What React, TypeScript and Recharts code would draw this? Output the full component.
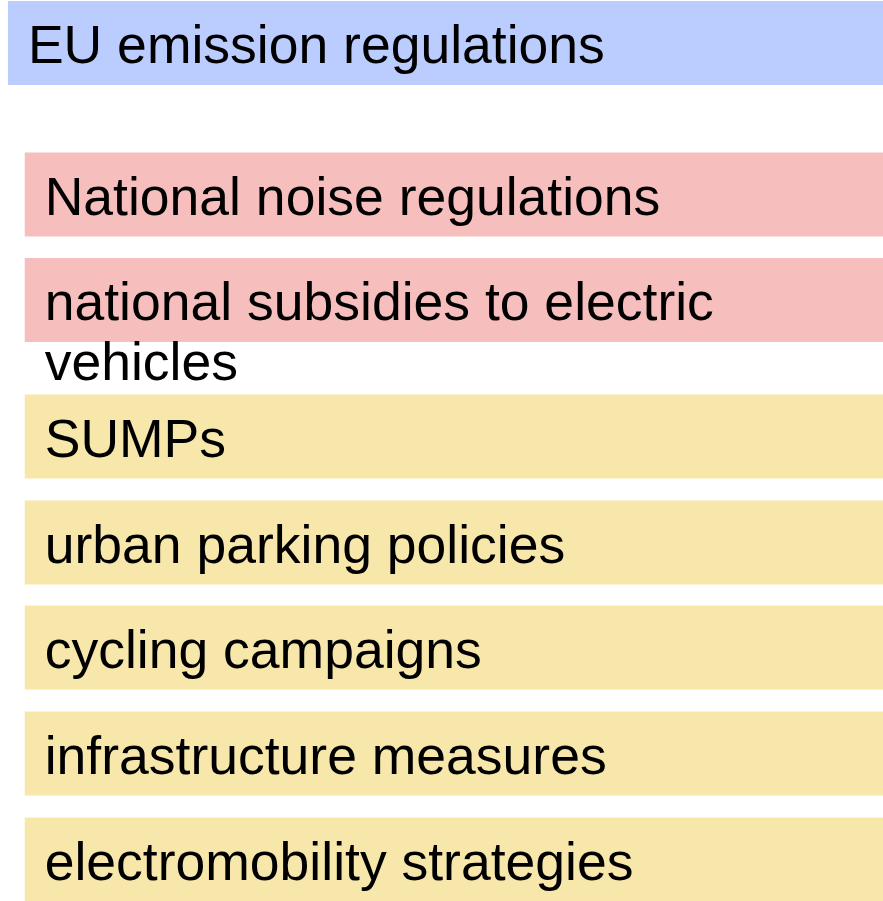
import { BarChart, Bar, XAxis, YAxis, Cell, LabelList } from 'recharts';

// policy levels, top to bottom
const labels = [
  'EU emission regulations',
  'National noise regulations',
  'national subsidies to electric vehicles',
  'SUMPs',
  'urban parking policies',
  'cycling campaigns',
  'infrastructure measures',
  'electromobility strategies',
];
const levels = ['EU', 'national', 'national', 'local', 'local', 'local', 'local', 'local'];
// vertical position of each band (0 = top, 90.1 = bottom)
const rowPositions = [4.25, 19.4, 29.95, 43.6, 54.2, 64.7, 75.3, 85.9];
// horizontal extent of each band in % of width
const barStarts = [0.9, 2.8, 2.8, 2.8, 2.8, 2.8, 2.8, 2.8];
const barEnds = [100, 100, 100, 100, 100, 100, 100, 100];

const levelColors: Record<string, string> = {
  EU: '#bbccff',
  national: '#f6bfbd',
  local: '#f7e7aa',
};

const data = labels.map((label, i) => ({
  label,
  level: levels[i],
  pos: rowPositions[i],
  range: [barStarts[i], barEnds[i]],
}));

const W = 883;
const H = 901;
const FONT_SIZE = 53.5;
const FONT = '"Liberation Sans", Arial, sans-serif';

let ctx: CanvasRenderingContext2D | null = null;
const measure = (s: string) => {
  if (!ctx) {
    ctx = document.createElement('canvas').getContext('2d');
    if (ctx) ctx.font = `${FONT_SIZE}px ${FONT}`;
  }
  return ctx ? ctx.measureText(s).width : s.length * FONT_SIZE * 0.5;
};

const wrap = (text: string, maxWidth: number) => {
  const lines: string[] = [];
  let cur = '';
  text.split(' ').forEach((word) => {
    const next = cur ? `${cur} ${word}` : word;
    if (cur && measure(next) > maxWidth) {
      lines.push(cur);
      cur = word;
    } else {
      cur = next;
    }
  });
  if (cur) lines.push(cur);
  return lines;
};

const renderLabel = (props: any) => {
  const box = props.viewBox ?? props;
  const x = Number(box.x ?? props.x);
  const y = Number(box.y ?? props.y);
  const h = Number(box.height ?? props.height) || 84;
  const lines = wrap(String(props.value), W - x - 40);
  return (
    <text
      x={x + 20}
      y={y + h / 2 + 20}
      fontSize={FONT_SIZE}
      fontFamily={FONT}
      fill="#000"
      textAnchor="start"
    >
      {lines.map((line, i) => (
        <tspan key={i} x={x + 20} dy={i === 0 ? 0 : 60}>
          {line}
        </tspan>
      ))}
    </text>
  );
};

export default function App() {
  return (
    <div style={{ position: 'absolute', left: 0, top: 0, background: '#fff' }}>
      <BarChart
        width={W}
        height={H}
        data={data}
        layout="vertical"
        margin={{ top: 0, right: 0, bottom: 0, left: 0 }}
      >
        <XAxis type="number" domain={[0, 100]} hide />
        <YAxis type="number" dataKey="pos" domain={[0, 90.1]} hide />
        <Bar dataKey="range" barSize={84} isAnimationActive={false}>
          {data.map((d) => (
            <Cell key={d.label} fill={levelColors[d.level]} />
          ))}
          <LabelList dataKey="label" content={renderLabel} />
        </Bar>
      </BarChart>
    </div>
  );
}
